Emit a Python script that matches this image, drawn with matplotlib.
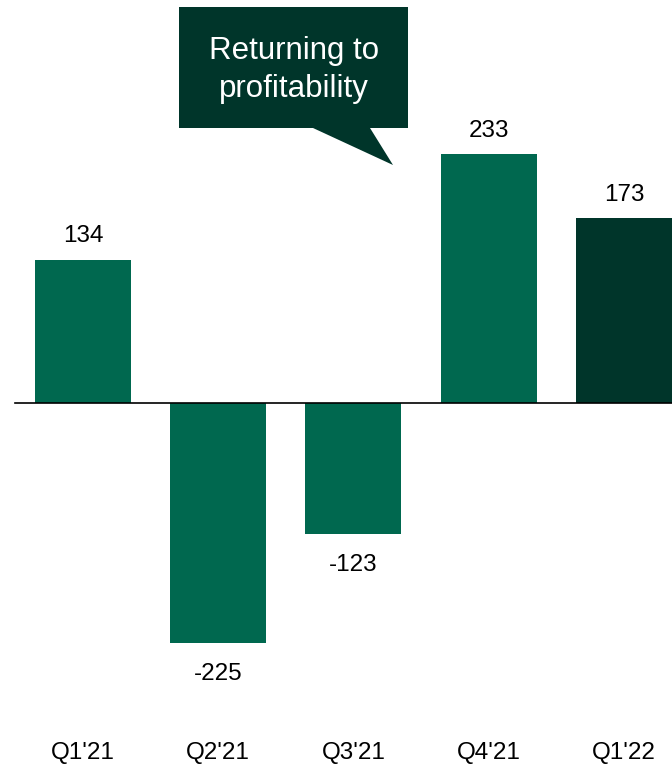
import matplotlib.pyplot as plt
from matplotlib.patches import Polygon

plt.rcParams['font.family'] = ['Liberation Sans', 'DejaVu Sans']

quarters = ["Q1'21", "Q2'21", "Q3'21", "Q4'21", "Q1'22"]
values = [134, -225, -123, 233, 173]
colors = ['#00684f', '#00684f', '#00684f', '#00684f', '#00352a']

W, H = 672, 768
fig = plt.figure(figsize=(W / 100, H / 100), dpi=100)
ax = fig.add_axes([0, 0, 1, 1])

x = list(range(len(quarters)))
ax.bar(x, values, width=0.71, color=colors, zorder=2)
ax.set_xlim(-0.613, 4.355)
ax.set_ylim(-341.8, 377.3)
ax.axhline(0, xmin=0.022, xmax=1, color='black', linewidth=1.2, zorder=3)

for i, v in zip(x, values):
    off = 17 if v >= 0 else -22
    ax.annotate(str(v), (i, v), xytext=(0, off), textcoords='offset points',
                ha='center', va='center', fontsize=17.5)

# category labels along the bottom
for i, q in zip(x, quarters):
    ax.text(i, -328, q, ha='center', va='center', fontsize=17.5)

ax.axis('off')

# speech bubble callout
def px(pts):
    return [(a / W, 1 - b / H) for a, b in pts]

bubble = [(179, 7), (408, 7), (408, 128), (370, 128), (393, 165), (313, 128), (179, 128)]
fig.patches.append(Polygon(px(bubble), closed=True, transform=fig.transFigure,
                           facecolor='#00352a', edgecolor='none'))
fig.text(294 / W, 1 - 51 / H, 'Returning to', color='white', fontsize=22.5,
         ha='center', va='center')
fig.text(294 / W, 1 - 89 / H, 'profitability', color='white', fontsize=22.5,
         ha='center', va='center')

fig.savefig('out.png', dpi=100)
